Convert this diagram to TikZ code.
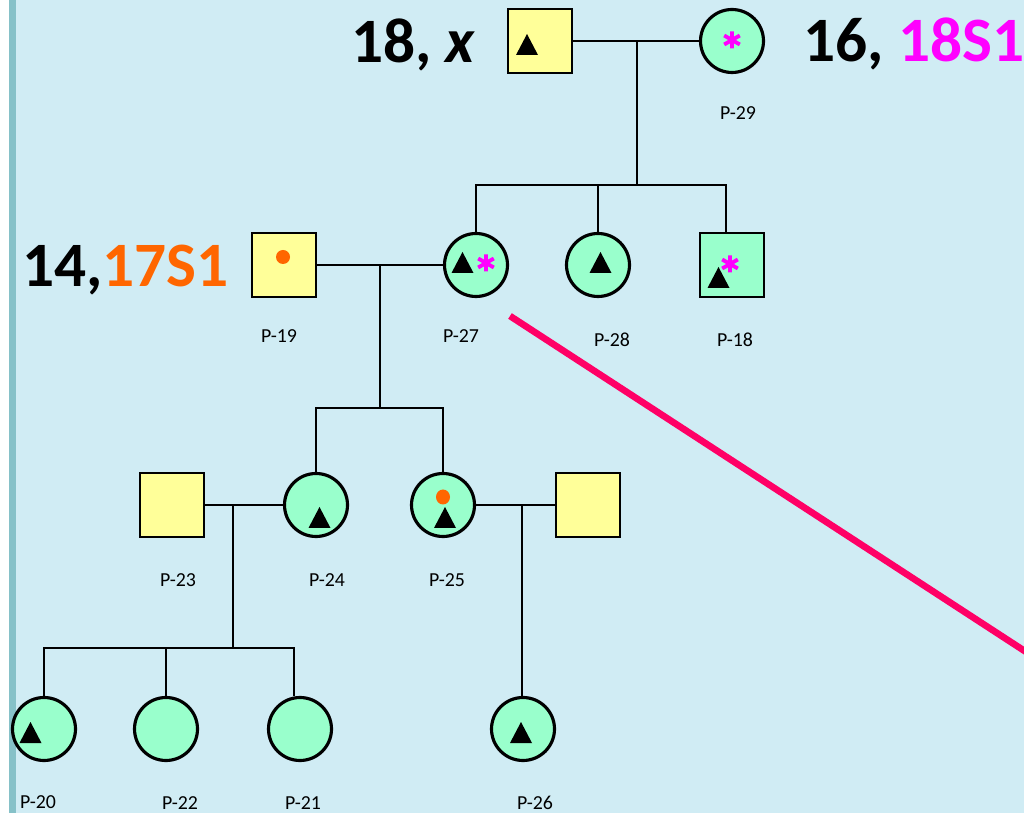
\documentclass[tikz,border=0pt]{standalone}
\usepackage{fontspec}
\setmainfont{Carlito}
\definecolor{bg}{HTML}{D0ECF4}
\definecolor{barc}{HTML}{86C1C8}
\definecolor{ylw}{HTML}{FFFF99}
\definecolor{grn}{HTML}{99FFCC}
\definecolor{org}{HTML}{FF6600}
\definecolor{mag}{HTML}{FF00FF}
\definecolor{redl}{HTML}{FF0066}
\begin{document}
\begin{tikzpicture}[x=0.02cm,y=-0.02cm,
  male/.style={draw, rectangle, line width=1.3pt, minimum size=1.27cm, inner sep=0pt, fill=ylw},
  malegreen/.style={male, fill=grn},
  female/.style={draw, circle, line width=1.8pt, minimum size=1.26cm, inner sep=0pt, fill=grn},
  link/.style={line width=1.6pt},
  lbl/.style={font=\fontsize{11.3}{13}\selectfont, inner sep=0pt},
  big/.style={font=\fontsize{36}{40}\selectfont\bfseries, inner sep=0pt},
  tri/.pic={\fill[black] (-11,0) -- (11,0) -- (0,-21) -- cycle;},
  ast/.pic={\draw[mag, line width=2.2pt] (0,-8.5) -- (0,8.5) (-7.8,-4.5) -- (7.8,4.5) (-7.8,4.5) -- (7.8,-4.5);}
]
\useasboundingbox (0,0) rectangle (1024,813);
% background
\fill[white] (0,0) rectangle (1024,813);
\fill[barc] (9,0) rectangle (16,813);
\fill[bg] (16,0) rectangle (1024,813);

% generation I
\node[male] (p29f) at (540,41) {};
\node[female] (p29m) at (732,41) {};
\coordinate (j1) at (637,41);
\coordinate (s1) at (637,185);
\coordinate (s1c) at (726,185);

% generation II
\node[male] (p19) at (284,265) {};
\node[female] (p27) at (476,265) {};
\node[female] (p28) at (598,265) {};
\node[malegreen] (p18) at (732,265) {};
\coordinate (j2) at (380,265);
\coordinate (s2) at (380,408);

% generation III
\node[male] (p23) at (172,505) {};
\node[female] (p24) at (316,505) {};
\node[female] (p25) at (443,505) {};
\node[male] (p25s) at (588,505) {};
\coordinate (j3) at (233,505);
\coordinate (s3) at (233,648);
\coordinate (s3r) at (294,648);
\coordinate (j4) at (522,505);

% generation IV
\node[female] (p20) at (44,729) {};
\node[female] (p22) at (166,729) {};
\node[female] (p21) at (300,729) {};
\node[female] (p26) at (523,729) {};

% connectors
\draw[link] (p29f) -- (p29m);
\draw[link] (j1) -- (s1);
\draw[link] (p27.north) |- (s1c) -- (s1c |- p18.north);
\draw[link] (p28.north) -- (p28.north |- s1);
\draw[link] (p19) -- (p27);
\draw[link] (j2) -- (s2);
\draw[link] (p24.north) |- (p25.north |- s2) -- (p25.north);
\draw[link] (p23) -- (p24);
\draw[link] (p25) -- (p25s);
\draw[link] (j3) -- (s3);
\draw[link] (p20.north) |- (s3r) -- (s3r |- p21.north);
\draw[link] (p22.north) -- (p22.north |- s3);
\draw[link] (j4) -- (j4 |- p26.north);

% symbols
\pic at (527,55) {tri};
\pic at (732,40) {ast};
\pic at (462.5,273) {tri};
\pic at (486,263) {ast};
\pic at (600.5,273) {tri};
\pic at (718.5,288) {tri};
\pic at (730,264) {ast};
\fill[org] (283,257) circle (7);
\pic at (319.5,528) {tri};
\fill[org] (443,497) ellipse (7 and 7.5);
\pic at (445,528) {tri};
\pic at (30.5,743) {tri};
\pic at (521,743) {tri};

% ID labels
\node[lbl] (l29) at (738,113) {P-29};
\node[lbl] (l19) at (279,336) {P-19};
\node[lbl] (l27) at (461,336) {P-27};
\node[lbl] (l28) at (612,340) {P-28};
\node[lbl] (l18) at (735,340) {P-18};
\node[lbl] (l23) at (178,580) {P-23};
\node[lbl] (l24) at (327,580) {P-24};
\node[lbl] (l25) at (447,580) {P-25};
\node[lbl] (l20) at (38,802) {P-20};
\node[lbl] (l22) at (180,803) {P-22};
\node[lbl] (l21) at (303,803) {P-21};
\node[lbl] (l26) at (535,803) {P-26};

% big annotations
\node[big, anchor=base east] (t18) at (476,63) {18, \textit{x}};
\node[big, anchor=base west] (t16) at (803,62) {16, \textcolor{mag}{18S1}};
\node[big, anchor=base west] (t14) at (22,287) {14,\textcolor{org}{17S1}};

% red line
\begin{scope}
\clip (0,0) rectangle (1024,813);
\coordinate (r1) at (510,316);
\coordinate (r2) at (1040,661);
\draw[redl, line width=3.8pt] (r1) -- (r2);
\end{scope}
\end{tikzpicture}
\end{document}
